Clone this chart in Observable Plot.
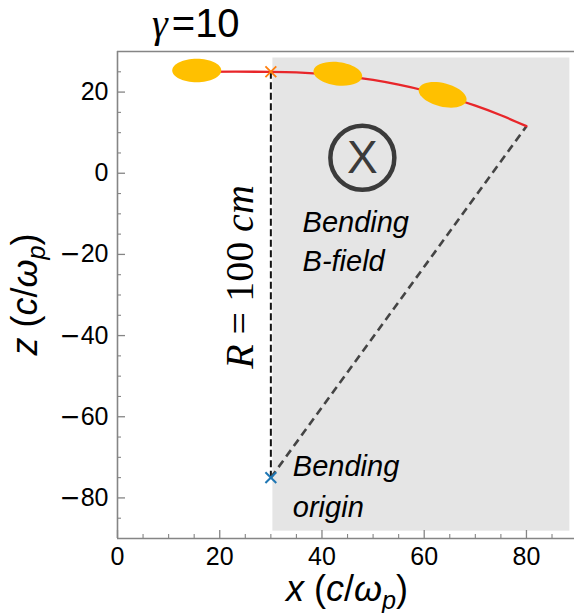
<!DOCTYPE html>
<html>
<head>
<meta charset="utf-8">
<script src="https://cdn.jsdelivr.net/npm/d3@7"></script>
<script src="https://cdn.jsdelivr.net/npm/@observablehq/plot@0.6"></script>
<style>
  html, body { margin: 0; padding: 0; background: #fff; overflow: hidden; }
  svg { display: block; }
</style>
</head>
<body>
<div id="chart"></div>
<script>
// Electron bunch path through a bending magnet (gamma = 10)

// trajectory: straight drift, then an arc about the bending origin
const trackX = [15, 30, 35, 40, 45, 50, 55, 60, 65, 70, 75, 80];
const trackZ = [25, 25, 24.87, 24.5, 23.87, 22.98, 21.82, 20.39, 18.67, 16.65, 14.3, 11.6];

// bunch snapshots along the path (tilt in degrees, clockwise)
const bunchX = [15.5, 43.1, 63.6];
const bunchZ = [25.3, 24.5, 19.3];
const bunchTilt = [0, 7, 14];

// key points
const entryXZ = [30, 25];
const originXZ = [30, -75];
const exitXZ = [80, 11.6];

// region with the bending field
const fieldX = [30.4, 88.5];
const fieldZ = [-88.2, 28.4];

// field direction marker (into the page)
const fieldMarkXZ = [47.9, 3.8];

// annotation texts
const annoText = ["Bending", "B-field", "Bending", "origin"];
const annoX = [36.2, 36.2, 34.3, 34.3];
const annoZ = [-14.5, -24.0, -74.5, -84.6];
const radiusLabelXZ = [26.6, -25.7];

// axes
const xDomain = [0, 89.4];
const zDomain = [-90, 30];
const xMajor = [0, 20, 40, 60, 80];
const xMinor = [5, 10, 15, 25, 30, 35, 45, 50, 55, 65, 70, 75, 85];
const zMajor = [-80, -60, -40, -20, 0, 20];
const zMinor = [-85, -75, -70, -65, -55, -50, -45, -35, -30, -25, -15, -10, -5, 5, 10, 15, 25];

const track = trackX.map((x, i) => ({x, z: trackZ[i]}));
const bunches = bunchX.map((x, i) => ({x, z: bunchZ[i], tilt: bunchTilt[i]}));
const field = [{x1: fieldX[0], x2: fieldX[1], z1: fieldZ[0], z2: fieldZ[1]}];
const annos = annoText.map((t, i) => ({t, x: annoX[i], z: annoZ[i]}));

// ellipse glyph for the bunches
const K = 0.5523;
const ellipseSymbol = {
  draw(context) {
    const a = 24.5, b = 11.7;
    context.moveTo(a, 0);
    context.bezierCurveTo(a, K * b, K * a, b, 0, b);
    context.bezierCurveTo(-K * a, b, -a, K * b, -a, 0);
    context.bezierCurveTo(-a, -K * b, -K * a, -b, 0, -b);
    context.bezierCurveTo(K * a, -b, a, -K * b, a, 0);
    context.closePath();
  }
};

const spine = "#858585";
const sans = "'Liberation Sans', Arial, Helvetica, sans-serif";
const serif = "'Liberation Serif', 'Times New Roman', serif";
const minusFmt = d => (d < 0 ? "\u2212" + (-d) : String(d));

const plot = Plot.plot({
  width: 574,
  height: 613,
  marginTop: 51,
  marginBottom: 75,
  marginLeft: 117,
  marginRight: 0,
  x: {domain: xDomain},
  y: {domain: zDomain},
  style: {fontFamily: sans, background: "white", color: "black"},
  marks: [
    Plot.rect(field, {x1: "x1", x2: "x2", y1: "z1", y2: "z2", fill: "#e5e5e5"}),

    // frame
    Plot.ruleX([xDomain[0]], {stroke: spine, strokeWidth: 1.6}),
    Plot.ruleY(zDomain, {stroke: spine, strokeWidth: 1.6}),

    // inward ticks
    Plot.axisX({ticks: xMajor, tickSize: -8, fill: "none", stroke: spine, strokeWidth: 1.3}),
    Plot.axisX({ticks: xMinor, tickSize: -4, fill: "none", stroke: spine, strokeWidth: 1.1}),
    Plot.axisY({ticks: zMajor, tickSize: -8, fill: "none", stroke: spine, strokeWidth: 1.3}),
    Plot.axisY({ticks: zMinor, tickSize: -4, fill: "none", stroke: spine, strokeWidth: 1.1}),
    Plot.axisX({ticks: xMajor, tickSize: 0, tickPadding: 9, fontSize: 25, label: null, tickFormat: minusFmt}),
    Plot.axisY({ticks: zMajor, tickSize: 0, tickPadding: 9, fontSize: 25, label: null, tickFormat: minusFmt}),

    // radius and exit guide lines
    Plot.link([{x1: entryXZ[0], y1: entryXZ[1], x2: originXZ[0], y2: originXZ[1]}],
      {x1: "x1", y1: "y1", x2: "x2", y2: "y2", stroke: "#111", strokeWidth: 2, strokeDasharray: "7,3.5"}),
    Plot.link([{x1: originXZ[0], y1: originXZ[1], x2: exitXZ[0], y2: exitXZ[1]}],
      {x1: "x1", y1: "y1", x2: "x2", y2: "y2", stroke: "#444", strokeWidth: 2.6, strokeDasharray: "8,5"}),

    // trajectory
    Plot.line(track, {x: "x", y: "z", stroke: "#e8262a", strokeWidth: 2.3, curve: "catmull-rom"}),

    // bunches
    Plot.dot(bunches, {x: "x", y: "z", rotate: "tilt", symbol: ellipseSymbol, fill: "#ffc000", stroke: "none"}),

    // entry and origin markers
    Plot.dot([entryXZ], {x: d => d[0], y: d => d[1], symbol: "times", r: 5, stroke: "#ff7f0e", strokeWidth: 1.8}),
    Plot.dot([originXZ], {x: d => d[0], y: d => d[1], symbol: "times", r: 5, stroke: "#1f77b4", strokeWidth: 2}),

    // field into the page
    Plot.dot([fieldMarkXZ], {x: d => d[0], y: d => d[1], r: 32, stroke: "#3b3b3b", strokeWidth: 4.5, fill: "none"}),
    Plot.text([fieldMarkXZ], {x: d => d[0], y: d => d[1], text: () => "X", fontSize: 46, fill: "#3b3b3b"}),

    // annotations
    Plot.text(annos, {x: "x", y: "z", text: "t", textAnchor: "start", lineAnchor: "bottom",
      fontSize: 29, fontStyle: "italic", fill: "black"})
  ]
});

document.getElementById("chart").appendChild(plot);

const svg = d3.select(plot);
const sx = plot.scale("x"), sy = plot.scale("y");

// wider minus sign on negative tick labels
svg.selectAll('g[aria-label="y-axis tick label"] text').each(function () {
  const s = this.textContent;
  if (s.startsWith("\u2212")) {
    const t = d3.select(this).text(null);
    t.append("tspan").attr("font-family", "'DejaVu Sans', sans-serif").text("\u2212");
    t.append("tspan").text(s.slice(1));
  }
});

// rich-text labels (italic symbols, subscripts)
function richText(parent, parts, {family, size}) {
  const t = parent.append("text")
    .attr("font-family", family)
    .attr("font-size", size)
    .attr("fill", "black");
  let shift = 0;
  for (const p of parts) {
    const s = t.append("tspan").text(p.t);
    if (p.it) s.attr("font-style", "italic");
    if (p.fam) s.attr("font-family", p.fam);
    if (p.dx) s.attr("dx", p.dx);
    const target = p.sub ? size * 0.22 : 0;
    if (target !== shift) { s.attr("dy", target - shift); shift = target; }
    if (p.sub) s.attr("font-size", size * 0.7);
  }
  return t;
}

const unitParts = [
  {t: " ("}, {t: "c", it: true}, {t: "/"}, {t: "\u03c9", it: true}, {t: "p", it: true, sub: true}, {t: ")"}
];

// x label
richText(svg, [{t: "x", it: true}, ...unitParts], {family: sans, size: 36})
  .attr("text-anchor", "middle")
  .attr("x", 347)
  .attr("y", 601);

// z label
richText(svg.append("g").attr("transform", "translate(37,294.5) rotate(-90)"),
  [{t: "z", it: true}, ...unitParts], {family: sans, size: 36})
  .attr("text-anchor", "middle");

// radius label along the dashed line
richText(svg.append("g").attr("transform",
    `translate(${sx.apply(radiusLabelXZ[0])},${sy.apply(radiusLabelXZ[1])}) rotate(-90)`),
  [{t: "R", it: true}, {t: " = 100 "}, {t: "cm", it: true}], {family: serif, size: 40})
  .attr("text-anchor", "middle");

// title
richText(svg, [{t: "\u03b3", it: true, fam: serif}, {t: "=10", dx: 4}], {family: sans, size: 40})
  .attr("text-anchor", "start")
  .attr("x", 152)
  .attr("y", 37);
</script>
</body>
</html>
